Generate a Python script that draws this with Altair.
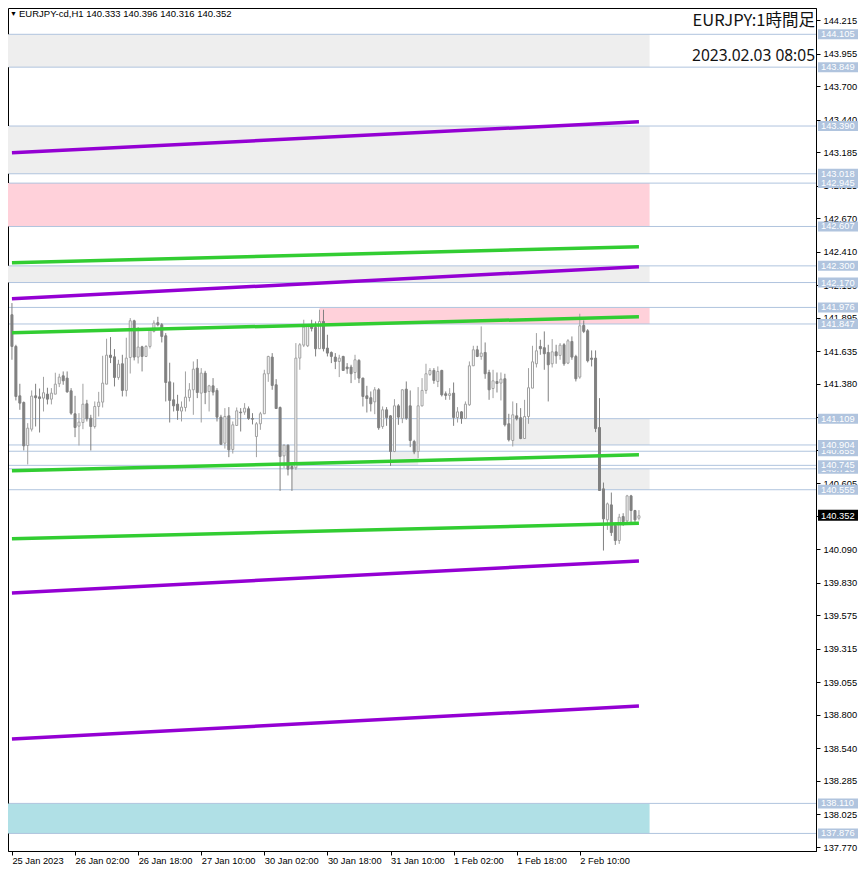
import altair as alt
import pandas as pd

# ---------------- data ----------------
opens = [141.919,141.672,141.287,141.235,140.900,141.027,141.287,141.279,141.269,141.300,
         141.261,141.300,141.381,141.443,141.425,141.326,141.147,141.051,141.079,141.225,
         141.113,141.048,141.204,141.238,141.378,141.604,141.591,141.430,141.537,141.329,
         141.586,141.872,141.589,141.669,141.594,141.672,141.789,141.857,141.841,141.755,
         141.396,141.256,141.222,141.168,141.196,141.274,141.334,141.503,141.308,141.464,
         141.321,141.365,141.329,141.121,140.918,141.131,140.869,141.056,141.160,141.160,
         141.186,141.110,140.970,141.069,141.147,141.459,141.589,141.373,141.196,140.819,
         140.902,140.736,140.726,141.581,141.682,141.677,141.833,141.820,141.654,141.867,
         141.659,141.625,141.589,141.555,141.594,141.511,141.511,141.469,141.563,141.425,
         141.287,141.272,141.240,141.334,141.048,141.178,141.131,140.853,141.209,141.110,
         141.339,141.209,140.931,140.853,141.209,141.329,141.454,141.485,141.399,141.485,
         141.303,141.290,141.308,141.118,141.162,141.110,141.217,141.521,141.646,141.594,
         141.625,141.469,141.344,141.399,141.386,141.420,141.069,140.939,141.131,141.116,
         140.954,141.126,141.347,141.537,141.672,141.662,141.625,141.537,141.630,141.602,
         141.685,141.542,141.711,141.594,141.433,141.836,141.794,141.581,141.581,141.040,
         140.562,140.320,140.437,140.276,140.159,140.346,140.312,140.507,140.393,140.333]
highs = [142.010,141.685,141.381,141.243,141.074,141.329,141.381,141.344,141.435,141.350,
         141.347,141.467,141.459,141.477,141.477,141.347,141.287,141.152,141.381,141.256,
         141.139,141.243,141.318,141.599,141.732,141.745,141.651,141.568,141.607,141.740,
         141.893,141.880,141.823,141.677,141.682,141.815,141.875,141.903,141.854,141.776,
         141.545,141.391,141.295,141.243,141.477,141.386,141.555,141.573,141.503,141.482,
         141.373,141.425,141.347,141.139,141.191,141.199,141.087,141.196,141.191,141.230,
         141.204,141.152,141.082,141.162,141.490,141.599,141.620,141.417,141.204,140.908,
         140.908,140.749,141.698,141.698,141.880,141.841,141.880,141.867,141.958,141.958,
         141.763,141.633,141.620,141.607,141.599,141.542,141.529,141.607,141.573,141.428,
         141.365,141.321,141.355,141.347,141.204,141.199,141.136,141.261,141.222,141.339,
         141.399,141.329,140.944,141.355,141.425,141.537,141.503,141.503,141.516,141.490,
         141.321,141.347,141.391,141.199,141.168,141.243,141.555,141.677,141.677,141.828,
         141.703,141.490,141.490,141.469,141.469,141.459,141.147,141.243,141.230,141.191,
         141.256,141.503,141.677,141.776,141.724,141.789,141.685,141.729,141.685,141.698,
         141.698,141.729,141.750,141.607,141.927,141.875,141.807,141.641,141.641,141.269,
         140.611,140.455,140.533,140.299,140.367,140.372,140.515,140.515,140.398,140.396]
lows = [141.568,141.251,141.178,140.861,140.752,141.009,141.048,141.001,141.165,141.220,
        141.220,141.300,141.355,141.373,141.311,141.139,140.965,140.900,141.027,141.087,
        140.861,141.032,141.126,141.196,141.378,141.542,141.360,141.412,141.282,141.282,
        141.461,141.563,141.539,141.477,141.589,141.656,141.781,141.828,141.703,141.243,
        141.079,141.165,141.100,141.087,141.165,141.243,141.139,141.269,141.079,141.222,
        141.165,141.290,141.087,140.908,140.876,140.809,140.837,141.053,141.009,141.139,
        141.100,141.064,140.809,141.022,141.147,141.396,141.334,141.188,140.546,140.723,
        140.666,140.546,140.710,141.490,141.667,141.667,141.789,141.594,141.654,141.633,
        141.594,141.542,141.495,141.433,141.482,141.459,141.386,141.412,141.386,141.204,
        141.157,141.165,141.144,141.022,141.030,141.053,140.741,140.848,141.061,141.074,
        141.100,140.887,140.832,140.801,141.204,141.303,141.443,141.381,141.355,141.282,
        141.256,141.256,141.053,141.079,141.069,141.108,141.209,141.521,141.589,141.568,
        141.420,141.256,141.269,141.313,141.251,141.048,140.931,140.892,141.095,140.949,
        140.952,141.069,141.347,141.508,141.607,141.490,141.243,141.508,141.537,141.568,
        141.521,141.534,141.568,141.399,141.420,141.776,141.547,141.516,141.004,140.549,
        140.081,140.242,140.195,140.125,140.133,140.273,140.299,140.299,140.302,140.316]
closes = [141.672,141.282,141.230,140.897,141.035,141.285,141.272,141.266,141.311,141.261,
          141.308,141.378,141.433,141.404,141.318,141.152,141.040,141.082,141.222,141.108,
          141.048,141.204,141.238,141.386,141.604,141.586,141.430,141.534,141.329,141.581,
          141.872,141.589,141.667,141.594,141.672,141.807,141.854,141.841,141.750,141.391,
          141.251,141.209,141.173,141.199,141.277,141.334,141.495,141.313,141.464,141.313,
          141.365,141.316,141.121,140.908,141.126,140.866,141.061,141.170,141.155,141.191,
          141.110,141.105,141.069,141.147,141.459,141.594,141.368,141.188,140.814,140.902,
          140.715,140.718,141.581,141.685,141.823,141.833,141.812,141.654,141.867,141.654,
          141.620,141.594,141.555,141.581,141.485,141.498,141.459,141.568,141.425,141.282,
          141.266,141.225,141.334,141.038,141.178,141.118,140.853,141.209,141.121,141.334,
          141.113,140.939,140.850,141.209,141.329,141.459,141.485,141.407,141.477,141.295,
          141.290,141.303,141.118,141.162,141.110,141.222,141.521,141.646,141.594,141.620,
          141.459,141.334,141.404,141.383,141.417,141.061,140.944,141.139,141.108,140.954,
          141.126,141.350,141.552,141.638,141.654,141.615,141.529,141.630,141.599,141.682,
          141.537,141.716,141.589,141.420,141.833,141.789,141.560,141.571,141.032,140.549,
          140.328,140.445,140.221,140.159,140.341,140.307,140.507,140.393,140.320,140.352]

x_tick_pos = [0, 16, 32, 48, 64, 80, 96, 112, 128, 144]
x_tick_labels = ["25 Jan 2023", "26 Jan 02:00", "26 Jan 18:00", "27 Jan 10:00", "30 Jan 02:00",
                 "30 Jan 18:00", "31 Jan 10:00", "1 Feb 02:00", "1 Feb 18:00", "2 Feb 10:00"]
y_ticks = [144.215, 143.955, 143.700, 143.440, 143.185, 142.925, 142.670, 142.410, 142.150,
           141.895, 141.635, 141.380, 141.120, 140.865, 140.605, 140.350, 140.090, 139.830,
           139.575, 139.315, 139.055, 138.800, 138.540, 138.285, 138.025, 137.770]

level_prices = [137.876, 138.110, 140.555, 140.718, 140.745, 140.855, 140.904, 141.109,
                141.847, 141.976, 142.170, 142.300, 142.607, 142.945, 143.018, 143.390,
                143.849, 144.105]
covered_levels = [140.718, 140.855]

zone_lo = [143.849, 143.018, 142.607, 142.170, 141.847, 140.904, 140.745, 140.555, 137.876]
zone_hi = [144.105, 143.390, 142.945, 142.300, 141.976, 141.109, 140.855, 140.718, 138.110]
zone_start = [-1.0, -1.0, -1.0, -1.0, 78, 127, 96, 71, -1.0]
zone_end = [161.7, 161.7, 161.7, 161.7, 161.7, 161.7, 103, 161.7, 161.7]
zone_color = ["#EEEEEE", "#EEEEEE", "#FFD1DA", "#EEEEEE", "#FFD1DA", "#EEEEEE", "#EEEEEE",
              "#EEEEEE", "#B0E0E6"]

tl_start_bar = [0, 0, 0, 0, 0, 0, 0, 0]
tl_end_bar = [159, 159, 159, 159, 159, 159, 159, 159]
tl_start_price = [143.182, 142.043, 139.751, 138.612, 142.324, 141.778, 140.702, 140.172]
tl_end_price = [143.424, 142.293, 140.000, 138.869, 142.449, 141.903, 140.827, 140.294]
tl_color = ["#9400D3"] * 4 + ["#32CD32"] * 4

header_left = "EURJPY-cd,H1  140.333 140.396 140.316 140.352"
title_right = "EURJPY:1時間足"
time_right = "2023.02.03 08:05"

# ---------------- build ----------------
FONT = "Liberation Sans"
FS = 9.3
xs = alt.Scale(domain=[-1.0, 203.9], nice=False, zero=False, padding=0)
ys = alt.Scale(domain=[137.739, 144.31], nice=False, zero=False, padding=0)

candles = pd.DataFrame({
    "i": list(range(len(opens))), "open": opens, "high": highs, "low": lows, "close": closes,
})
candles["bull"] = candles["close"] >= candles["open"]
candles["edge"] = candles["bull"].map({True: "#A0A0A0", False: "#808080"})
candles["body"] = candles["bull"].map({True: "#FFFFFF", False: "#808080"})

zones = pd.DataFrame({"lo": zone_lo, "hi": zone_hi, "s": zone_start, "e": zone_end, "c": zone_color})
levels = pd.DataFrame({"price": level_prices})
levels["covered"] = levels["price"].isin(covered_levels)
tlines = pd.DataFrame({"x0": tl_start_bar, "x1": tl_end_bar, "p0": tl_start_price,
                       "p1": tl_end_price, "c": tl_color})

arr_pos = "[" + ",".join(str(v) for v in x_tick_pos) + "]"
arr_lab = "[" + ",".join("'" + t + "'" for t in x_tick_labels) + "]"
xax = alt.Axis(values=x_tick_pos, labelExpr=f"{arr_lab}[indexof({arr_pos}, datum.value)]",
               labelAlign="left", labelFlush=False, labelOverlap=False, labelBaseline="top",
               tickSize=4, tickColor="black", domainColor="black", labelColor="black",
               labelFont=FONT, labelFontSize=FS, labelPadding=1, grid=False, title=None)
yax = alt.Axis(orient="right", values=y_ticks, format=".3f", tickSize=4, labelPadding=3,
               tickColor="black", domainColor="black", labelColor="black", labelFont=FONT,
               labelFontSize=FS, labelFlush=False, labelOverlap=False, grid=False, title=None)

X = lambda f: alt.X(f, scale=xs, axis=xax)
Y = lambda f: alt.Y(f, scale=ys, axis=yax)
RX = lambda d: alt.value({"expr": f"width + ({d})"})

zone_layer = alt.Chart(zones).mark_rect().encode(
    x=X("s:Q"), x2="e:Q", y=Y("lo:Q"), y2="hi:Q",
    color=alt.Color("c:N", scale=None))

level_layer = alt.Chart(levels).mark_rule(color="#B0C4DE", strokeWidth=1).encode(
    y=Y("price:Q"), x=alt.value(1), x2=RX(0))

wick_layer = alt.Chart(candles).mark_rule(strokeWidth=1).encode(
    x=X("i:Q"), y=Y("low:Q"), y2="high:Q",
    color=alt.Color("edge:N", scale=None))

body_layer = alt.Chart(candles).mark_bar(size=2, strokeWidth=1).encode(
    x=X("i:Q"), y=Y("open:Q"), y2="close:Q",
    fill=alt.Fill("body:N", scale=None), stroke=alt.Stroke("edge:N", scale=None))

trend_layer = alt.Chart(tlines).mark_rule(strokeWidth=3.5, strokeCap="butt").encode(
    x=X("x0:Q"), x2="x1:Q", y=Y("p0:Q"), y2="p1:Q",
    color=alt.Color("c:N", scale=None))


def level_tags(covered):
    base = alt.Chart(levels).transform_filter(
        alt.datum.covered if covered else ~alt.datum.covered)
    box = base.mark_rect(color="#B0C4DE", yOffset=-5, y2Offset=5).encode(
        y=Y("price:Q"), y2="price:Q", x=RX(2), x2=RX(42))
    txt = base.mark_text(align="left", baseline="middle", font=FONT,
                         fontSize=FS, color="white").encode(
        y=Y("price:Q"), x=RX(5), text=alt.Text("price:Q", format=".3f"))
    return [box, txt]


last = pd.DataFrame({"price": [closes[-1]]})
cur_box = alt.Chart(last).mark_rect(color="black", yOffset=-6, y2Offset=5).encode(
    y=Y("price:Q"), y2="price:Q", x=RX(2), x2=RX(42))
cur_text = alt.Chart(last).mark_text(align="left", baseline="middle", font=FONT,
                                     fontSize=FS, color="white").encode(
    y=Y("price:Q"), x=RX(5), text=alt.Text("price:Q", format=".3f"))

hdr = pd.DataFrame({"t": [header_left]})
tri = alt.Chart(hdr).mark_text(text="▼", fontSize=7, color="black", align="left",
                               baseline="middle").encode(x=alt.value(2), y=alt.value(6))
hdr_text = alt.Chart(hdr).mark_text(align="left", baseline="middle", font=FONT, fontSize=9.5,
                                    color="black").encode(x=alt.value(11), y=alt.value(6), text="t:N")
ttl = pd.DataFrame({"t": [title_right]})
ttl_text = alt.Chart(ttl).mark_text(align="right", baseline="middle", font="Noto Sans CJK JP",
                                    fontSize=16.5, color="#111111").encode(
    x=RX(-1), y=alt.value(13), text="t:N")
tm = pd.DataFrame({"t": [time_right]})
tm_text = alt.Chart(tm).mark_text(align="right", baseline="middle", font="Noto Sans",
                                  fontSize=15.5, color="#111111").encode(
    x=RX(-1), y=alt.value(48), text="t:N")

chart = alt.layer(
    zone_layer, level_layer, wick_layer, body_layer, trend_layer,
    *level_tags(True), *level_tags(False), cur_box, cur_text, tri, hdr_text, ttl_text, tm_text
).properties(
    width=850, height=858, padding=0, background="white",
    autosize=alt.AutoSizeParams(type="fit", contains="padding"),
).configure_view(stroke="black", strokeWidth=1)

chart.save("out.html", embed_options={"renderer": "svg", "actions": False})
